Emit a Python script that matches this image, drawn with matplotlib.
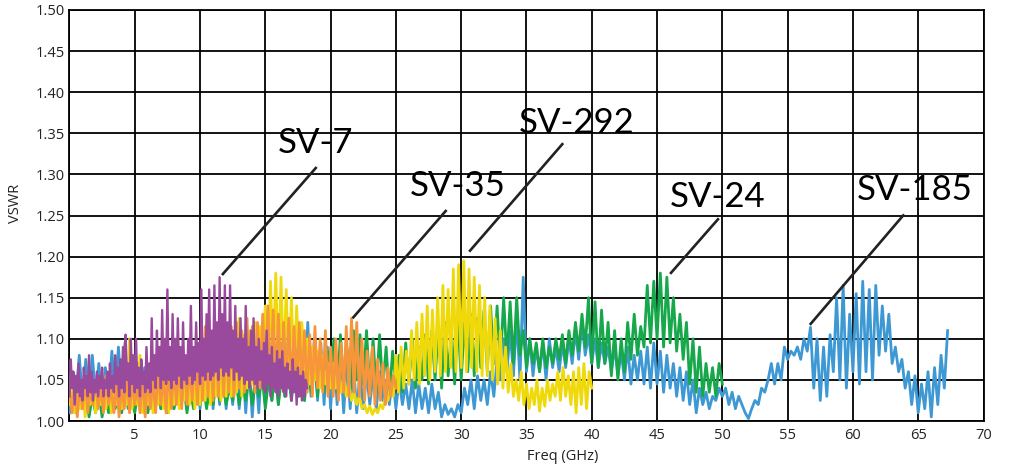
import numpy as np
import matplotlib
matplotlib.use("Agg")
import matplotlib.pyplot as plt

# sweep step for each trace (GHz)
step_sv7 = 0.1
step_sv35 = 0.2
step_sv292 = 0.2
step_sv24 = 0.25
step_sv185 = 0.25

# VSWR readings
sv7 = [1.03, 1.075, 1.04, 1.06, 1.02, 1.055, 1.035, 1.07, 1.03, 1.05,
       1.025, 1.065, 1.04, 1.055, 1.03, 1.08, 1.035, 1.06, 1.025, 1.05,
       1.035, 1.06, 1.03, 1.055, 1.04, 1.065, 1.03, 1.05, 1.04, 1.06,
       1.03, 1.07, 1.04, 1.055, 1.035, 1.08, 1.045, 1.065, 1.03, 1.075,
       1.04, 1.09, 1.035, 1.105, 1.05, 1.07, 1.03, 1.10, 1.045, 1.08,
       1.035, 1.10, 1.04, 1.065, 1.03, 1.075, 1.045, 1.06, 1.035, 1.09,
       1.04, 1.07, 1.035, 1.125, 1.05, 1.08, 1.04, 1.11, 1.055, 1.09,
       1.04, 1.135, 1.05, 1.10, 1.045, 1.16, 1.05, 1.09, 1.04, 1.13,
       1.05, 1.10, 1.045, 1.125, 1.055, 1.09, 1.04, 1.12, 1.05, 1.08,
       1.045, 1.10, 1.055, 1.14, 1.045, 1.09, 1.05, 1.12, 1.06, 1.095,
       1.045, 1.16, 1.055, 1.10, 1.05, 1.13, 1.06, 1.16, 1.05, 1.11,
       1.055, 1.165, 1.06, 1.12, 1.05, 1.175, 1.065, 1.13, 1.055, 1.165,
       1.06, 1.12, 1.055, 1.165, 1.065, 1.11, 1.05, 1.14, 1.06, 1.10,
       1.05, 1.125, 1.055, 1.10, 1.045, 1.14, 1.05, 1.09, 1.04, 1.11,
       1.05, 1.125, 1.045, 1.09, 1.04, 1.10, 1.05, 1.085, 1.04, 1.095,
       1.035, 1.11, 1.045, 1.08, 1.03, 1.09, 1.04, 1.07, 1.035, 1.085,
       1.03, 1.075, 1.04, 1.085, 1.035, 1.065, 1.03, 1.07, 1.04, 1.06,
       1.025, 1.075, 1.035, 1.06, 1.02, 1.065, 1.03, 1.055, 1.025, 1.06,
       1.03, 1.05, 1.04]

sv35 = [1.04, 1.01, 1.05, 1.005, 1.045, 1.015, 1.055, 1.01, 1.04, 1.02,
        1.05, 1.015, 1.045, 1.01, 1.055, 1.02, 1.04, 1.01, 1.05, 1.005,
        1.045, 1.015, 1.06, 1.01, 1.05, 1.02, 1.045, 1.01, 1.055, 1.005,
        1.06, 1.015, 1.05, 1.01, 1.065, 1.02, 1.055, 1.01, 1.07, 1.015,
        1.065, 1.02, 1.075, 1.015, 1.08, 1.02, 1.07, 1.025, 1.085, 1.02,
        1.095, 1.025, 1.115, 1.03, 1.10, 1.025, 1.11, 1.03, 1.12, 1.03,
        1.105, 1.035, 1.115, 1.03, 1.12, 1.04, 1.11, 1.035, 1.125, 1.04,
        1.115, 1.035, 1.12, 1.04, 1.13, 1.045, 1.14, 1.04, 1.135, 1.045,
        1.13, 1.04, 1.12, 1.045, 1.125, 1.04, 1.115, 1.035, 1.12, 1.04,
        1.11, 1.035, 1.105, 1.03, 1.115, 1.04, 1.10, 1.035, 1.11, 1.03,
        1.09, 1.03, 1.10, 1.025, 1.095, 1.035, 1.115, 1.03, 1.125, 1.035,
        1.12, 1.03, 1.10, 1.025, 1.085, 1.03, 1.09, 1.02, 1.075, 1.025,
        1.07, 1.02, 1.065, 1.03, 1.055, 1.04]

sv292 = [1.02, 1.045, 1.01, 1.05, 1.015, 1.04, 1.005, 1.055, 1.02, 1.045,
         1.01, 1.05, 1.02, 1.045, 1.015, 1.055, 1.01, 1.05, 1.02, 1.06,
         1.015, 1.07, 1.02, 1.10, 1.015, 1.06, 1.02, 1.08, 1.01, 1.055,
         1.02, 1.05, 1.01, 1.06, 1.02, 1.045, 1.015, 1.055, 1.01, 1.06,
         1.02, 1.065, 1.015, 1.055, 1.025, 1.07, 1.02, 1.075, 1.015, 1.06,
         1.02, 1.07, 1.025, 1.08, 1.02, 1.075, 1.03, 1.085, 1.025, 1.09,
         1.03, 1.09, 1.03, 1.10, 1.035, 1.125, 1.03, 1.105, 1.04, 1.11,
         1.045, 1.12, 1.05, 1.115, 1.05, 1.14, 1.055, 1.17, 1.06, 1.18,
         1.055, 1.175, 1.06, 1.16, 1.055, 1.15, 1.05, 1.14, 1.055, 1.12,
         1.05, 1.10, 1.045, 1.09, 1.05, 1.085, 1.04, 1.08, 1.045, 1.07,
         1.04, 1.07, 1.04, 1.06, 1.035, 1.055, 1.03, 1.045, 1.025, 1.035,
         1.02, 1.03, 1.015, 1.02, 1.01, 1.018, 1.008, 1.015, 1.01, 1.02,
         1.015, 1.03, 1.025, 1.045, 1.03, 1.08, 1.035, 1.09, 1.04, 1.085,
         1.045, 1.11, 1.05, 1.12, 1.045, 1.13, 1.055, 1.14, 1.05, 1.135,
         1.06, 1.15, 1.055, 1.165, 1.06, 1.16, 1.065, 1.185, 1.06, 1.19,
         1.065, 1.195, 1.06, 1.185, 1.065, 1.175, 1.06, 1.165, 1.055, 1.15,
         1.055, 1.14, 1.05, 1.125, 1.045, 1.11, 1.04, 1.09, 1.035, 1.07,
         1.03, 1.05, 1.025, 1.06, 1.02, 1.045, 1.015, 1.04, 1.02, 1.05,
         1.012, 1.04, 1.018, 1.05, 1.025, 1.045, 1.03, 1.06, 1.025, 1.065,
         1.03, 1.055, 1.02, 1.06, 1.01, 1.065, 1.02, 1.07, 1.015, 1.06,
         1.04]

sv24 = [1.02, 1.035, 1.01, 1.03, 1.015, 1.04, 1.005, 1.03, 1.01, 1.035,
        1.005, 1.03, 1.01, 1.04, 1.015, 1.035, 1.01, 1.04, 1.015, 1.03,
        1.01, 1.035, 1.015, 1.04, 1.01, 1.03, 1.02, 1.045, 1.015, 1.035,
        1.01, 1.04, 1.015, 1.035, 1.02, 1.045, 1.01, 1.04, 1.015, 1.035,
        1.02, 1.045, 1.015, 1.04, 1.02, 1.05, 1.025, 1.045, 1.02, 1.04,
        1.025, 1.05, 1.02, 1.045, 1.025, 1.055, 1.02, 1.05, 1.03, 1.055,
        1.015, 1.05, 1.025, 1.06, 1.02, 1.055, 1.03, 1.06, 1.025, 1.065,
        1.03, 1.07, 1.025, 1.065, 1.035, 1.075, 1.03, 1.08, 1.035, 1.085,
        1.04, 1.10, 1.035, 1.105, 1.045, 1.09, 1.04, 1.11, 1.05, 1.105,
        1.045, 1.11, 1.04, 1.10, 1.035, 1.105, 1.04, 1.09, 1.03, 1.085,
        1.04, 1.08, 1.035, 1.095, 1.045, 1.10, 1.04, 1.09, 1.05, 1.105,
        1.045, 1.11, 1.05, 1.115, 1.04, 1.12, 1.055, 1.11, 1.045, 1.125,
        1.05, 1.12, 1.06, 1.13, 1.055, 1.125, 1.065, 1.135, 1.06, 1.14,
        1.07, 1.14, 1.065, 1.15, 1.075, 1.145, 1.07, 1.15, 1.08, 1.11,
        1.065, 1.10, 1.07, 1.095, 1.06, 1.10, 1.065, 1.09, 1.07, 1.10,
        1.075, 1.105, 1.07, 1.11, 1.08, 1.12, 1.085, 1.13, 1.09, 1.15,
        1.07, 1.145, 1.065, 1.135, 1.07, 1.12, 1.055, 1.11, 1.05, 1.10,
        1.06, 1.12, 1.075, 1.13, 1.08, 1.115, 1.09, 1.165, 1.095, 1.17,
        1.10, 1.18, 1.09, 1.175, 1.095, 1.15, 1.085, 1.13, 1.075, 1.12,
        1.045, 1.10, 1.035, 1.09, 1.03, 1.07, 1.035, 1.065, 1.03, 1.07,
        1.045]

sv185 = [1.01, 1.06, 1.03, 1.08, 1.025, 1.075, 1.02, 1.08, 1.03, 1.07,
         1.02, 1.065, 1.03, 1.085, 1.025, 1.09, 1.03, 1.095, 1.02, 1.08,
         1.015, 1.07, 1.02, 1.065, 1.015, 1.06, 1.02, 1.07, 1.015, 1.065,
         1.02, 1.06, 1.015, 1.07, 1.02, 1.065, 1.015, 1.06, 1.02, 1.07,
         1.015, 1.065, 1.02, 1.07, 1.015, 1.075, 1.02, 1.07, 1.015, 1.065,
         1.02, 1.07, 1.015, 1.075, 1.01, 1.07, 1.005, 1.065, 1.01, 1.08,
         1.02, 1.085, 1.025, 1.09, 1.02, 1.095, 1.03, 1.10, 1.025, 1.105,
         1.03, 1.11, 1.025, 1.12, 1.03, 1.10, 1.025, 1.095, 1.02, 1.09,
         1.015, 1.085, 1.02, 1.08, 1.01, 1.075, 1.015, 1.07, 1.01, 1.06,
         1.015, 1.06, 1.02, 1.055, 1.015, 1.06, 1.025, 1.05, 1.02, 1.055,
         1.015, 1.05, 1.02, 1.045, 1.015, 1.05, 1.01, 1.045, 1.015, 1.04,
         1.01, 1.045, 1.015, 1.035, 1.005, 1.02, 1.008, 1.015, 1.005, 1.02,
         1.01, 1.04, 1.02, 1.05, 1.015, 1.055, 1.025, 1.05, 1.02, 1.06,
         1.03, 1.075, 1.05, 1.10, 1.06, 1.11, 1.055, 1.125, 1.05, 1.175,
         1.06, 1.10, 1.055, 1.09, 1.06, 1.095, 1.05, 1.10, 1.065, 1.09,
         1.06, 1.095, 1.065, 1.10, 1.07, 1.11, 1.075, 1.12, 1.08, 1.105,
         1.07, 1.10, 1.065, 1.095, 1.07, 1.09, 1.06, 1.09, 1.055, 1.085,
         1.05, 1.09, 1.045, 1.08, 1.05, 1.085, 1.045, 1.09, 1.04, 1.095,
         1.045, 1.085, 1.035, 1.08, 1.04, 1.07, 1.03, 1.065, 1.025, 1.06,
         1.02, 1.05, 1.01, 1.04, 1.02, 1.035, 1.015, 1.03, 1.025, 1.04,
         1.03, 1.04, 1.02, 1.035, 1.015, 1.03, 1.02, 1.01, 1.003, 1.015,
         1.025, 1.02, 1.04, 1.035, 1.05, 1.07, 1.045, 1.07, 1.05, 1.09,
         1.075, 1.085, 1.08, 1.09, 1.075, 1.10, 1.085, 1.114, 1.04, 1.10,
         1.025, 1.09, 1.03, 1.105, 1.06, 1.15, 1.05, 1.165, 1.04, 1.13,
         1.06, 1.155, 1.045, 1.17, 1.06, 1.16, 1.05, 1.165, 1.08, 1.14,
         1.085, 1.13, 1.07, 1.09, 1.06, 1.075, 1.04, 1.06, 1.02, 1.055,
         1.01, 1.045, 1.015, 1.06, 1.005, 1.065, 1.02, 1.08, 1.04, 1.11]

# drawn bottom to top: values, step, colour, line width
traces = [
    (sv185, step_sv185, "#3d98d3", 2.0),
    (sv24, step_sv24, "#16a84a", 2.0),
    (sv292, step_sv292, "#f0d90a", 2.0),
    (sv35, step_sv35, "#f7953b", 2.0),
    (sv7, step_sv7, "#9a4a9c", 1.7),
]

# label text, label position, leader line start (on trace) and end
labels = ["SV-7", "SV-35", "SV-292", "SV-24", "SV-185"]
label_xy = [(18.84, 1.338), (29.7, 1.2865), (38.86, 1.363), (49.62, 1.273), (64.74, 1.2805)]
leader_from = [(11.68, 1.1776), (21.68, 1.125), (30.61, 1.206), (46.0, 1.179), (56.7, 1.117)]
leader_to = [(18.93, 1.309), (28.88, 1.2567), (37.81, 1.338), (49.73, 1.2466), (63.92, 1.2514)]

xticks = np.arange(0, 71, 5)
xtick_labels = [""] + [str(v) for v in xticks[1:]]
yticks = np.arange(1.0, 1.501, 0.05)

fig = plt.figure(figsize=(10.11, 4.69), dpi=100)
ax = fig.add_axes([0.0687, 0.1023, 0.9041, 0.8764])

for vals, step, col, lw in traces:
    f = step * np.arange(len(vals))
    ax.plot(f, vals, color=col, lw=lw, solid_joinstyle="round", zorder=3)

for (x0, y0), (x1, y1) in zip(leader_from, leader_to):
    ax.plot([x0, x1], [y0, y1], color="#222222", lw=1.9, solid_capstyle="butt", zorder=5)

for txt, (tx, ty) in zip(labels, label_xy):
    ax.text(tx, ty, txt, ha="center", va="center", fontsize=25,
            family="Lato", color="black", zorder=6)

ax.set_xlim(0, 70)
ax.set_ylim(1.0, 1.5)
ax.set_xticks(xticks)
ax.set_xticklabels(xtick_labels)
ax.set_yticks(yticks)
ax.set_yticklabels([f"{v:.2f}" for v in yticks])
ax.tick_params(length=0, labelsize=10.5, colors="#222222")
ax.tick_params(axis="x", pad=5)
ax.tick_params(axis="y", pad=3)
for lab in ax.get_xticklabels() + ax.get_yticklabels():
    lab.set_family("Open Sans")

ax.grid(True, color="black", lw=1.3, zorder=1)
ax.set_axisbelow(True)
for sp in ax.spines.values():
    sp.set_color("black")
    sp.set_linewidth(1.3)

ax.set_xlabel("Freq (GHz)", family="Open Sans", fontsize=10.5, color="#222222")
ax.xaxis.set_label_coords(0.54, -0.068)
ax.set_ylabel("VSWR", family="Open Sans", fontsize=10.5, color="#222222")
ax.yaxis.set_label_coords(-0.051, 0.53)

fig.savefig("out.png", dpi=100)
